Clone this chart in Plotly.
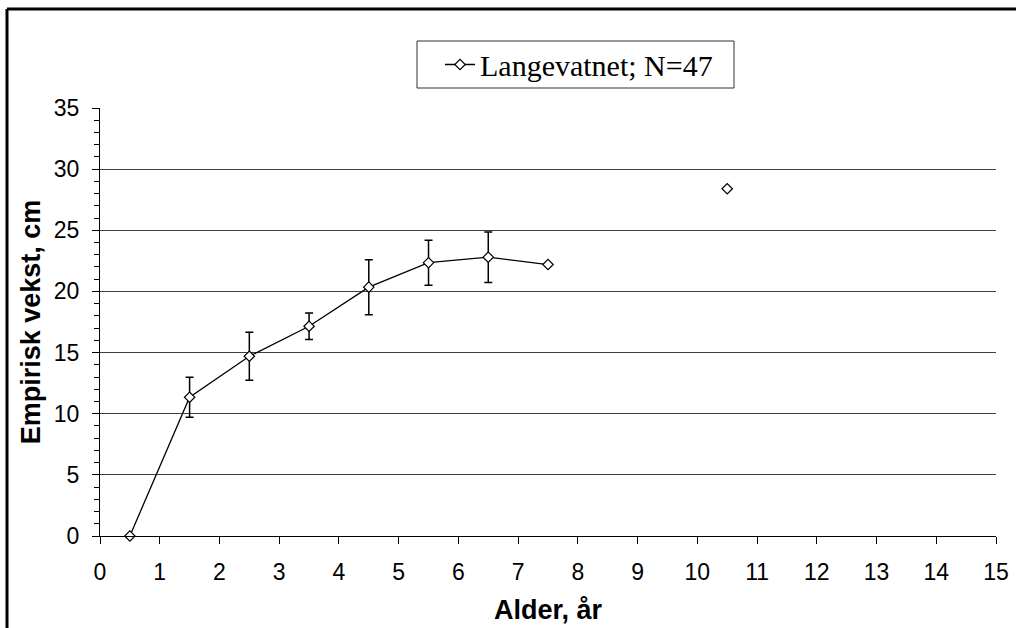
import plotly.graph_objects as go

# Data
ages = [0.5, 1.5, 2.5, 3.5, 4.5, 5.5, 6.5, 7.5, 8.5, 9.5, 10.5]
growth_cm = [0.0, 11.35, 14.7, 17.15, 20.35, 22.35, 22.8, 22.2, None, None, 28.4]
growth_err = [None, 1.63, 1.97, 1.09, 2.25, 1.84, 2.07, None, None, None, None]
series_name = "Langevatnet; N=47"
x_title = "Alder, år"
y_title = "Empirisk vekst, cm"

W, H = 1016, 628
L, R, T, B = 100, 20, 108, 92
pw, ph = W - L - R, H - T - B


def px_x(p):
    return (p - L) / pw


def px_y(p):
    return (H - B - p) / ph


fig = go.Figure()
fig.add_trace(go.Scatter(
    x=ages, y=growth_cm, name=series_name, mode="lines+markers",
    connectgaps=False,
    line=dict(color="black", width=1.3),
    marker=dict(symbol="diamond", size=8, color="white",
                line=dict(color="black", width=1.2)),
    error_y=dict(type="data", array=growth_err, visible=True,
                 color="black", thickness=1.5, width=4),
    cliponaxis=False,
))

fig.update_layout(
    width=W, height=H, autosize=False,
    margin=dict(l=L, r=R, t=T, b=B, autoexpand=False),
    paper_bgcolor="white", plot_bgcolor="white",
    showlegend=True,
    legend=dict(
        x=px_x(440), y=px_y(64.5), xanchor="left", yanchor="middle",
        font=dict(family="Liberation Serif", size=30, color="black"),
        borderwidth=0, bgcolor="rgba(0,0,0,0)",
        itemwidth=30,
    ),
    font=dict(family="Liberation Sans", color="black"),
    xaxis=dict(
        range=[0, 15], dtick=1, tick0=0, showgrid=False, zeroline=False,
        automargin=False,
        showline=True, linecolor="black", linewidth=1,
        ticks="outside", ticklen=7, tickcolor="black",
        ticklabelstandoff=8,
        tickfont=dict(family="Liberation Sans", size=23, color="black"),
        title=dict(text=x_title, standoff=16,
                   font=dict(family="Liberation Sans", size=27, color="black",
                             weight="bold")),
    ),
    yaxis=dict(
        range=[0, 35], dtick=5, tick0=0, showgrid=True, gridcolor="#404040",
        gridwidth=1, zeroline=False,
        automargin=False,
        showline=True, linecolor="black", linewidth=1,
        ticks="outside", ticklen=7, tickcolor="black",
        ticklabelstandoff=8,
        minor=dict(dtick=1, ticks="outside", ticklen=5, tickcolor="black",
                   showgrid=False),
        tickfont=dict(family="Liberation Sans", size=23, color="black"),
        title=dict(text=y_title, standoff=5,
                   font=dict(family="Liberation Sans", size=27, color="black",
                             weight="bold")),
    ),
    shapes=[
        dict(type="line", xref="paper", yref="paper",
             x0=px_x(7), x1=px_x(W + 10), y0=px_y(9), y1=px_y(9),
             line=dict(color="black", width=3)),
        dict(type="line", xref="paper", yref="paper",
             x0=px_x(7), x1=px_x(7), y0=px_y(9), y1=px_y(H + 10),
             line=dict(color="black", width=3)),
        dict(type="rect", xref="paper", yref="paper",
             x0=px_x(417), x1=px_x(734), y0=px_y(41), y1=px_y(88),
             line=dict(color="#333333", width=1)),
    ],
)

fig.write_html(
    "out.html",
    config={"displayModeBar": False, "responsive": False},
    post_script="document.body.style.margin='0';document.body.style.padding='0';",
)
